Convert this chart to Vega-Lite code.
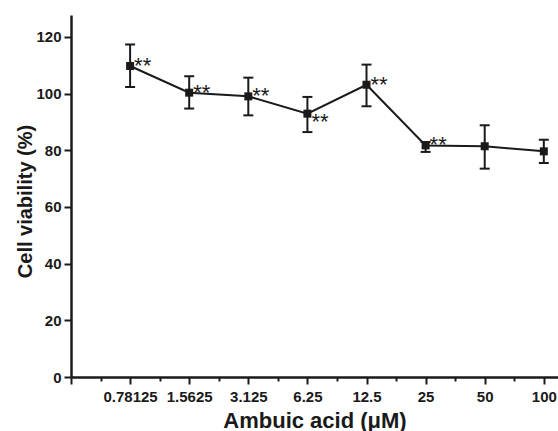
{
  "$schema": "https://vega.github.io/schema/vega-lite/v6.json",
  "autosize": "none",
  "width": 487,
  "height": 362,
  "padding": {"left": 71, "top": 15, "right": 0, "bottom": 54},
  "background": "white",
  "config": {
    "view": {"stroke": null},
    "font": "Liberation Sans",
    "axis": {"grid": false, "domainColor": "#1a1a1a", "domainWidth": 2.5, "tickColor": "#1a1a1a", "tickWidth": 2, "labelFont": "Liberation Sans", "labelFontWeight": "bold", "labelFontSize": 15, "labelColor": "#1a1a1a", "titleFont": "Liberation Sans", "titleFontWeight": "bold", "titleColor": "#1a1a1a"}
  },
  "data": {
    "values": [
      {"pos": 1, "conc": "0.78125", "mean": 109.7, "lo": 102.3, "hi": 117.3, "sig": "**", "star": "above"},
      {"pos": 2, "conc": "1.5625", "mean": 100.3, "lo": 94.7, "hi": 106.1, "sig": "**", "star": "above"},
      {"pos": 3, "conc": "3.125", "mean": 99.0, "lo": 92.3, "hi": 105.6, "sig": "**", "star": "above"},
      {"pos": 4, "conc": "6.25", "mean": 92.9, "lo": 86.4, "hi": 98.8, "sig": "**", "star": "below"},
      {"pos": 5, "conc": "12.5", "mean": 103.1, "lo": 95.5, "hi": 110.2, "sig": "**", "star": "above"},
      {"pos": 6, "conc": "25", "mean": 81.7, "lo": 79.4, "hi": 82.9, "sig": "**", "star": "above"},
      {"pos": 7, "conc": "50", "mean": 81.4, "lo": 73.5, "hi": 88.8, "sig": "", "star": "none"},
      {"pos": 8, "conc": "100", "mean": 79.6, "lo": 75.5, "hi": 83.7, "sig": "", "star": "none"}
    ]
  },
  "encoding": {
    "x": {
      "field": "pos", "type": "quantitative",
      "scale": {"domain": [0, 8.24], "nice": false, "zero": false},
      "axis": {
        "title": "Ambuic acid (μM)",
        "titleFontSize": 22,
        "titleY": 50,
        "titleBaseline": "alphabetic",
        "values": [0, 0.5, 1, 1.5, 2, 2.5, 3, 3.5, 4, 4.5, 5, 5.5, 6, 6.5, 7, 7.5, 8],
        "labelExpr": "(datum.value >= 1 && datum.value % 1 === 0) ? ['0.78125','1.5625','3.125','6.25','12.5','25','50','100'][datum.value - 1] : ''",
        "tickSize": {"condition": {"test": "datum.value % 1 === 0", "value": 7}, "value": 4},
        "labelPadding": 5,
        "labelFlush": false,
        "labelOverlap": false
      }
    }
  },
  "layer": [
    {
      "mark": {"type": "rule", "color": "#1a1a1a", "strokeWidth": 2},
      "encoding": {
        "y": {"field": "lo", "type": "quantitative"},
        "y2": {"field": "hi"}
      }
    },
    {
      "mark": {"type": "tick", "orient": "horizontal", "color": "#1a1a1a", "opacity": 1, "size": 10, "thickness": 2},
      "encoding": {"y": {"field": "lo", "type": "quantitative"}}
    },
    {
      "mark": {"type": "tick", "orient": "horizontal", "color": "#1a1a1a", "opacity": 1, "size": 10, "thickness": 2},
      "encoding": {"y": {"field": "hi", "type": "quantitative"}}
    },
    {
      "mark": {"type": "line", "color": "#1a1a1a", "strokeWidth": 2},
      "encoding": {
        "y": {
          "field": "mean", "type": "quantitative",
          "scale": {"domain": [0, 127.7], "nice": false},
          "axis": {
            "title": "Cell viability (%)",
            "titleFontSize": 20,
            "titleX": -46,
            "titleY": 186,
            "titleBaseline": "middle",
            "titleAlign": "center",
            "titleAngle": -90,
            "values": [0, 10, 20, 30, 40, 50, 60, 70, 80, 90, 100, 110, 120],
            "labelExpr": "datum.value % 20 === 0 ? datum.label : ''",
            "tickSize": {"condition": {"test": "datum.value % 20 === 0", "value": 7}, "value": 4},
            "labelPadding": 3
          }
        }
      }
    },
    {
      "mark": {"type": "point", "shape": "square", "filled": true, "size": 64, "color": "#1a1a1a", "opacity": 1},
      "encoding": {"y": {"field": "mean", "type": "quantitative"}}
    },
    {
      "transform": [{"filter": "datum.star === 'above'"}],
      "mark": {"type": "text", "align": "left", "baseline": "alphabetic", "dx": 4, "dy": 7, "fontSize": 22, "font": "Liberation Sans", "color": "#1a1a1a"},
      "encoding": {"y": {"field": "mean", "type": "quantitative"}, "text": {"field": "sig"}}
    },
    {
      "transform": [{"filter": "datum.star === 'below'"}],
      "mark": {"type": "text", "align": "left", "baseline": "alphabetic", "dx": 4, "dy": 15, "fontSize": 22, "font": "Liberation Sans", "color": "#1a1a1a"},
      "encoding": {"y": {"field": "mean", "type": "quantitative"}, "text": {"field": "sig"}}
    }
  ]
}
